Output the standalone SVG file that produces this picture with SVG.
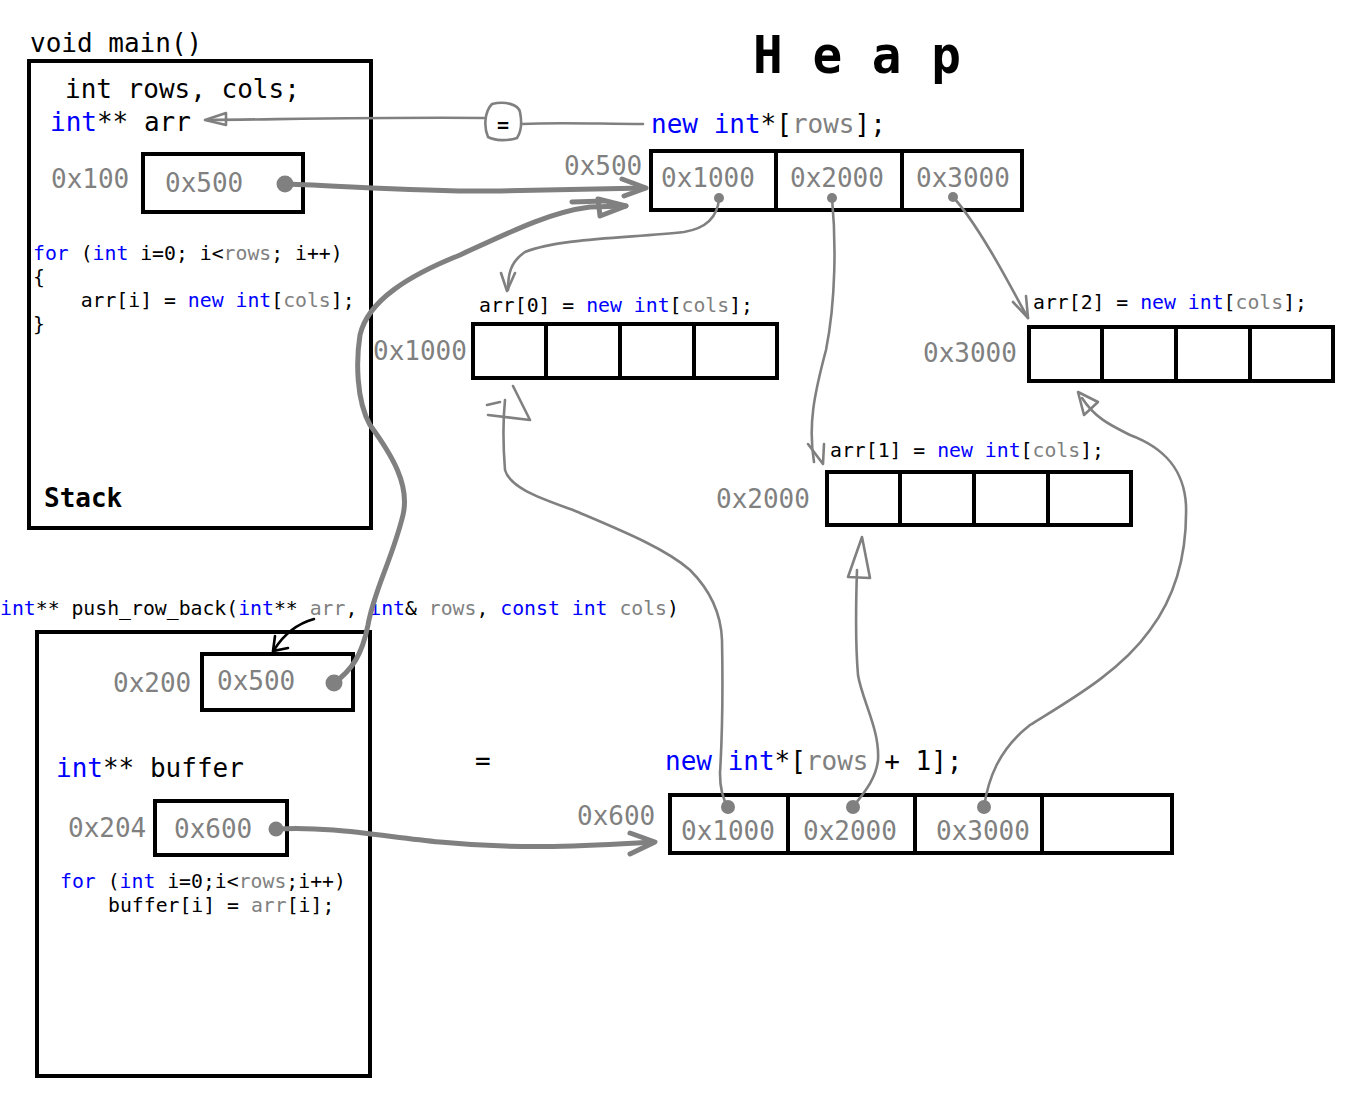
<svg xmlns="http://www.w3.org/2000/svg" width="1346" height="1096" viewBox="0 0 1346 1096">
<style>
text{font-family:"DejaVu Sans Mono","Liberation Mono",monospace;fill:#000;white-space:pre}
.l{font-size:26px}
.s{font-size:19.8px}
.b{fill:#0000ff}
.g{fill:#808080}
.box{fill:none;stroke:#000;stroke-width:4}
.c{fill:none;stroke:#808080;stroke-width:2.6;stroke-linecap:round;stroke-linejoin:round}
.ct{fill:none;stroke:#808080;stroke-width:5;stroke-linecap:round;stroke-linejoin:round}
.dot{fill:#808080}
</style>
<rect width="1346" height="1096" fill="#fff"/>

<g id="title-heap">
<text x="753" y="73" font-size="51" font-weight="bold" textLength="208" lengthAdjust="spacingAndGlyphs">H e a p</text>
</g>

<g id="stack-main">
<text class="l" x="30" y="52">void main()</text>
<rect class="box" x="29" y="61" width="342" height="467"/>
<text class="l" x="65" y="98">int rows, cols;</text>
<text class="l" x="50" y="131"><tspan class="b">int</tspan>** arr</text>
<text class="l g" x="51" y="188">0x100</text>
<rect class="box" x="143" y="154" width="160" height="58"/>
<text class="l g" x="165" y="192">0x500</text>
<text class="s" x="33" y="260"><tspan class="b">for</tspan> (<tspan class="b">int</tspan> i=0; i&lt;<tspan class="g">rows</tspan>; i++)</text>
<text class="s" x="33" y="284">{</text>
<text class="s" x="33" y="307">    arr[i] = <tspan class="b">new</tspan> <tspan class="b">int</tspan>[<tspan class="g">cols</tspan>];</text>
<text class="s" x="33" y="331">}</text>
<text class="l" x="44" y="507" font-weight="bold">Stack</text>
</g>

<g id="heap-rows">
<text class="l" x="651" y="133"><tspan class="b">new</tspan> <tspan class="b">int</tspan>*[<tspan class="g">rows</tspan>];</text>
<text class="l g" x="564" y="175">0x500</text>
<rect class="box" x="651" y="151" width="371" height="59"/>
<line class="box" x1="776" y1="151" x2="776" y2="210"/>
<line class="box" x1="902" y1="151" x2="902" y2="210"/>
<text class="l g" x="661" y="187">0x1000</text>
<text class="l g" x="790" y="187">0x2000</text>
<text class="l g" x="916" y="187">0x3000</text>
</g>

<g id="heap-arr0">
<text class="s" x="479" y="312">arr[0] = <tspan class="b">new</tspan> <tspan class="b">int</tspan>[<tspan class="g">cols</tspan>];</text>
<text class="l g" x="373" y="360">0x1000</text>
<rect class="box" x="473" y="324" width="304" height="54"/>
<line class="box" x1="546" y1="324" x2="546" y2="378"/>
<line class="box" x1="620" y1="324" x2="620" y2="378"/>
<line class="box" x1="694" y1="324" x2="694" y2="378"/>
</g>

<g id="heap-arr2">
<text class="s" x="1033" y="309">arr[2] = <tspan class="b">new</tspan> <tspan class="b">int</tspan>[<tspan class="g">cols</tspan>];</text>
<text class="l g" x="923" y="362">0x3000</text>
<rect class="box" x="1029" y="327" width="304" height="54"/>
<line class="box" x1="1102" y1="327" x2="1102" y2="381"/>
<line class="box" x1="1176" y1="327" x2="1176" y2="381"/>
<line class="box" x1="1250" y1="327" x2="1250" y2="381"/>
</g>

<g id="heap-arr1">
<text class="s" x="830" y="457">arr[1] = <tspan class="b">new</tspan> <tspan class="b">int</tspan>[<tspan class="g">cols</tspan>];</text>
<text class="l g" x="716" y="508">0x2000</text>
<rect class="box" x="827" y="472" width="304" height="53"/>
<line class="box" x1="900" y1="472" x2="900" y2="525"/>
<line class="box" x1="974" y1="472" x2="974" y2="525"/>
<line class="box" x1="1048" y1="472" x2="1048" y2="525"/>
</g>

<g id="stack-push">
<text class="s" x="0" y="615"><tspan class="b">int</tspan>** push_row_back(<tspan class="b">int</tspan>** <tspan class="g">arr</tspan>, <tspan class="b">int</tspan>&amp; <tspan class="g">rows</tspan>, <tspan class="b">const</tspan> <tspan class="b">int</tspan> <tspan class="g">cols</tspan>)</text>
<rect class="box" x="37" y="632" width="333" height="444"/>
<text class="l g" x="113" y="692">0x200</text>
<rect class="box" x="202" y="654" width="151" height="56"/>
<text class="l g" x="217" y="690">0x500</text>
<text class="l" x="56" y="777"><tspan class="b">int</tspan>** buffer</text>
<text class="l g" x="68" y="837">0x204</text>
<rect class="box" x="155" y="801" width="132" height="54"/>
<text class="l g" x="174" y="838">0x600</text>
<text class="s" x="60" y="888"><tspan class="b">for</tspan> (<tspan class="b">int</tspan> i=0;i&lt;<tspan class="g">rows</tspan>;i++)</text>
<text class="s" x="108" y="912">buffer[i] = <tspan class="g">arr</tspan>[i];</text>
</g>

<g id="heap-buffer">
<text class="l" x="475" y="770">=</text>
<text class="l" x="665" y="770"><tspan class="b">new</tspan> <tspan class="b">int</tspan>*[<tspan class="g">rows</tspan> + 1];</text>
<text class="l g" x="577" y="825">0x600</text>
<rect class="box" x="670" y="795" width="502" height="58"/>
<line class="box" x1="788" y1="795" x2="788" y2="853"/>
<line class="box" x1="915" y1="795" x2="915" y2="853"/>
<line class="box" x1="1042" y1="795" x2="1042" y2="853"/>
<text class="l g" x="681" y="840">0x1000</text>
<text class="l g" x="803" y="840">0x2000</text>
<text class="l g" x="936" y="840">0x3000</text>
</g>

<g id="connectors">
<!-- arr = new int*[rows] -->
<path class="c" d="M484,118 C400,117 300,119 207,120"/>
<path class="c" d="M226,113 L205,120 L226,125 Z"/>
<path class="c" d="M492,104 C505,101 518,104 520,112 C522,122 521,132 517,138 C508,141 495,141 488,137 C484,128 484,112 492,104 Z"/>
<text x="497" y="132" font-size="20" font-weight="bold">=</text>
<path class="c" d="M522,124 C560,122 600,124 643,124"/>

<!-- stack arr -> heap array -->
<circle class="dot" cx="285" cy="184" r="8.5"/>
<path class="ct" d="M285,184 C350,186 420,192 500,191 C560,190 610,189 645,188"/>
<path class="ct" d="M622,179 L646,188 L624,196"/>

<!-- push arr -> heap array -->
<circle class="dot" cx="334" cy="683" r="8.5"/>
<path class="ct" d="M334,683 C352,670 362,655 368,625 C374,590 392,560 403,515 C410,485 392,455 370,425 C356,400 356,360 360,335 C368,300 410,275 460,255 C510,232 550,212 590,207 L626,206"/>
<path class="ct" d="M598,199 L626,206 L600,216 Z"/>
<path class="ct" d="M572,202 L604,201"/>

<!-- 0x1000 -> arr[0] -->
<circle class="dot" cx="719" cy="198" r="5"/>
<path class="c" d="M719,198 C718,215 708,228 684,232 C630,238 560,238 525,252 C510,262 508,275 508,290"/>
<path class="c" d="M501,273 L507,291 L515,273"/>
<!-- 0x2000 -> arr[1] -->
<circle class="dot" cx="832" cy="198" r="5"/>
<path class="c" d="M832,198 C836,240 836,300 826,350 C814,395 808,425 814,462"/>
<path class="c" d="M808,444 L823,464 L824,444"/>
<!-- 0x3000 -> arr[2] -->
<circle class="dot" cx="953" cy="197" r="5"/>
<path class="c" d="M953,197 C965,210 975,225 990,250 C1005,275 1015,295 1028,318"/>
<path class="c" d="M1013,302 L1028,318 L1026,296"/>

<!-- buffer -> new int*[rows+1] -->
<circle class="dot" cx="276" cy="829" r="7.5"/>
<path class="ct" d="M276,829 C330,826 380,836 440,842 C520,850 590,846 652,842"/>
<path class="ct" d="M630,833 L655,842 L630,854"/>

<!-- push_row_back arr label -> 0x500 box -->
<path fill="none" stroke="#000" stroke-width="2.6" stroke-linecap="round" d="M314,619 C296,624 284,634 274,650"/>
<path fill="none" stroke="#000" stroke-width="2.6" stroke-linecap="round" d="M275,636 L273,651 L288,648"/>

<!-- bottom 0x1000 -> arr[0] -->
<circle class="dot" cx="728" cy="807" r="7"/>
<path class="c" d="M728,807 C722,798 720,785 720,773 C722,740 723,690 722,640 C721,612 710,590 690,570 C665,548 620,530 573,510 C540,498 510,488 505,470 C503,445 503,420 505,400"/>
<path class="c" d="M513,386 L530,420 L488,415 M487,405 L500,402"/>
<!-- bottom 0x2000 -> arr[1] -->
<circle class="dot" cx="853" cy="807" r="7"/>
<path class="c" d="M853,807 C862,795 876,780 878,760 C880,730 862,700 858,675 C855,640 856,600 857,570"/>
<path class="c" d="M862,537 L848,577 L870,578 Z"/>
<!-- bottom 0x3000 -> arr[2] -->
<circle class="dot" cx="984" cy="807" r="7"/>
<path class="c" d="M984,807 C988,780 998,750 1030,725 C1070,700 1120,672 1150,630 C1180,590 1187,545 1186,505 C1184,470 1165,448 1130,435 C1110,425 1095,418 1082,398"/>
<path class="c" d="M1078,392 L1084,415 L1098,402 Z"/>
</g>
</svg>
